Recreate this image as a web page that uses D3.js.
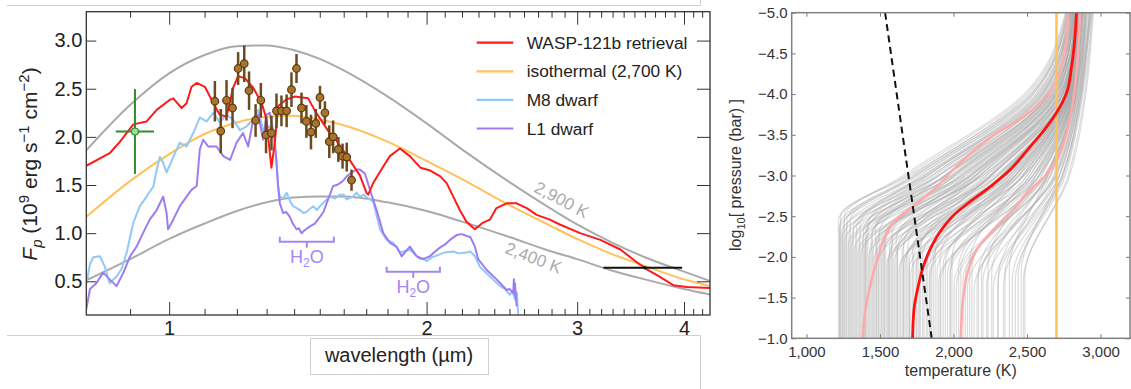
<!DOCTYPE html>
<html>
<head>
<meta charset="utf-8">
<script src="https://cdn.jsdelivr.net/npm/d3@7"></script>
<style>
  html, body { margin: 0; padding: 0; background: #fff; }
  svg { display: block; font-family: "Liberation Sans", Arial, Helvetica, sans-serif; }
</style>
</head>
<body>
<svg id="fig" width="1131" height="389"></svg>
<script>
// ---------------- Emission spectrum (left panel) ----------------
const wavelengthMajorTicks = [1, 2, 3, 4];
const wavelengthMinorTicks = [0.9, 1.1, 1.2, 1.3, 1.4, 1.5, 1.6, 1.7, 1.8, 1.9,
  2.1, 2.2, 2.3, 2.4, 2.5, 2.6, 2.7, 2.8, 2.9, 3.1, 3.2, 3.3, 3.4, 3.5, 3.6, 3.7, 3.8, 3.9, 4.1, 4.2];
const fluxTicks = [0.5, 1.0, 1.5, 2.0, 2.5, 3.0];

// blackbody reference curves
const bbWavelength = [0.8, 0.9, 1.0, 1.1, 1.2, 1.3, 1.4, 1.5, 1.6, 1.8, 2.0, 2.2, 2.5, 2.8, 3.0, 3.3, 3.6, 4.0, 4.3];
const bb2900 = [1.86, 2.33, 2.66, 2.85, 2.94, 2.95, 2.90, 2.81, 2.69, 2.42, 2.14, 1.87, 1.53, 1.25, 1.09, 0.90, 0.75, 0.60, 0.50];
const bb2700 = [1.17, 1.54, 1.82, 2.03, 2.15, 2.21, 2.22, 2.18, 2.12, 1.95, 1.75, 1.56, 1.29, 1.07, 0.94, 0.78, 0.66, 0.52, 0.45];
const bb2400 = [0.51, 0.73, 0.94, 1.10, 1.23, 1.32, 1.37, 1.38, 1.38, 1.32, 1.23, 1.12, 0.96, 0.81, 0.73, 0.61, 0.52, 0.42, 0.36];

// retrieved planet spectrum
const retrievalWavelength = [0.800, 0.852, 0.876, 0.908, 0.941, 0.967, 1.002, 1.011, 1.034, 1.048, 1.062, 1.077,
  1.101, 1.126, 1.146, 1.167, 1.188, 1.204, 1.226, 1.254, 1.283, 1.300, 1.309, 1.317, 1.329, 1.341, 1.372, 1.403,
  1.430, 1.454, 1.481, 1.535, 1.569, 1.612, 1.671, 1.701, 1.709, 1.732, 1.779, 1.812, 1.861, 1.912, 1.967, 2.020,
  2.075, 2.111, 2.149, 2.187, 2.226, 2.277, 2.329, 2.371, 2.414, 2.481, 2.549, 2.619, 2.690, 2.787, 2.863, 3.024,
  3.193, 3.370, 3.520, 3.610, 3.740, 3.886, 4.030, 4.290];
const retrievalFlux = [1.70, 1.83, 1.95, 2.13, 2.16, 2.28, 2.385, 2.40, 2.30, 2.35, 2.52, 2.56,
  2.52, 2.35, 2.23, 2.21, 2.51, 2.63, 2.61, 2.51, 2.35, 2.18, 1.90, 1.68, 1.94, 2.32, 2.39, 2.42,
  2.41, 2.40, 2.27, 2.06, 1.96, 1.81, 1.60, 1.42, 1.40, 1.52, 1.69, 1.80, 1.88, 1.80, 1.68, 1.65,
  1.59, 1.52, 1.38, 1.24, 1.12, 1.04, 1.11, 1.14, 1.26, 1.31, 1.31, 1.26, 1.19, 1.14, 1.09, 1.00,
  0.93, 0.83, 0.70, 0.63, 0.55, 0.46, 0.44, 0.43];

// M8 dwarf template
const m8Wavelength = [0.800, 0.808, 0.815, 0.830, 0.841, 0.852, 0.868, 0.880, 0.892, 0.908, 0.924, 0.941, 0.949,
  0.958, 0.967, 0.975, 0.984, 0.993, 1.011, 1.029, 1.048, 1.067, 1.086, 1.106, 1.126, 1.146, 1.167, 1.188, 1.210,
  1.232, 1.254, 1.271, 1.288, 1.311, 1.323, 1.335, 1.341, 1.347, 1.360, 1.372, 1.385, 1.396, 1.410, 1.422, 1.435,
  1.447, 1.460, 1.474, 1.488, 1.501, 1.520, 1.542, 1.563, 1.584, 1.600, 1.613, 1.640, 1.656, 1.671, 1.690, 1.702,
  1.718, 1.733, 1.764, 1.796, 1.828, 1.861, 1.912, 1.964, 1.980, 2.000, 2.030, 2.073, 2.100, 2.149, 2.180, 2.228,
  2.250, 2.278, 2.309, 2.372, 2.437, 2.470, 2.503, 2.520, 2.537, 2.545, 2.550, 2.560];
const m8Flux = [0.47, 0.68, 0.75, 0.76, 0.65, 0.48, 0.55, 0.63, 0.80, 1.11, 1.28, 1.38, 1.43,
  1.48, 1.66, 1.79, 1.73, 1.63, 1.79, 1.94, 1.90, 2.04, 2.20, 2.16, 2.25, 2.15, 2.23, 2.18, 2.07,
  2.11, 2.18, 2.28, 2.07, 2.11, 2.04, 1.76, 1.48, 1.38, 1.36, 1.42, 1.33, 1.28, 1.26, 1.24, 1.21,
  1.22, 1.25, 1.28, 1.24, 1.28, 1.33, 1.38, 1.36, 1.40, 1.40, 1.35, 1.38, 1.42, 1.38, 1.40, 1.37,
  1.35, 1.32, 1.04, 0.93, 0.90, 0.80, 0.83, 0.73, 0.74, 0.71, 0.75, 0.78, 0.80, 0.81, 0.79, 0.80,
  0.81, 0.76, 0.65, 0.55, 0.45, 0.42, 0.36, 0.40, 0.31, 0.30, 0.38, 0.14];

// L1 dwarf template
const l1Wavelength = [0.800, 0.808, 0.822, 0.837, 0.852, 0.868, 0.884, 0.900, 0.916, 0.932, 0.949, 0.967, 0.984,
  0.993, 0.997, 1.011, 1.029, 1.048, 1.062, 1.077, 1.086, 1.096, 1.111, 1.136, 1.157, 1.178, 1.199, 1.220, 1.237,
  1.254, 1.271, 1.288, 1.300, 1.311, 1.329, 1.341, 1.347, 1.359, 1.370, 1.384, 1.395, 1.409, 1.418, 1.428, 1.440,
  1.461, 1.480, 1.501, 1.515, 1.528, 1.555, 1.570, 1.584, 1.600, 1.613, 1.635, 1.656, 1.671, 1.694, 1.717, 1.748,
  1.780, 1.812, 1.845, 1.870, 1.912, 1.947, 1.982, 2.018, 2.040, 2.073, 2.100, 2.130, 2.168, 2.200, 2.228, 2.250,
  2.278, 2.298, 2.350, 2.415, 2.481, 2.500, 2.526, 2.530, 2.535, 2.537, 2.549];
const l1Flux = [0.21, 0.42, 0.48, 0.59, 0.52, 0.45, 0.59, 0.76, 0.86, 1.00, 1.14, 1.24, 1.38,
  1.21, 1.04, 1.14, 1.28, 1.38, 1.45, 1.49, 1.87, 1.97, 1.90, 1.90, 1.80, 1.76, 1.94, 2.04, 1.90,
  2.18, 2.23, 1.97, 2.23, 2.25, 1.97, 1.49, 1.31, 1.21, 1.22, 1.17, 1.10, 1.04, 1.05, 1.00, 1.03,
  1.07, 1.10, 1.17, 1.22, 1.31, 1.49, 1.50, 1.52, 1.55, 1.59, 1.63, 1.66, 1.66, 1.62, 1.45, 1.24,
  1.00, 0.90, 0.86, 0.76, 0.86, 0.76, 0.73, 0.76, 0.80, 0.85, 0.88, 0.93, 0.98, 0.99, 0.97, 0.96,
  0.86, 0.73, 0.62, 0.52, 0.41, 0.42, 0.38, 0.52, 0.36, 0.48, 0.24];

// spectroscopic eclipse depths (planet flux) with 1-sigma errors
const obsWavelength = [1.131, 1.149, 1.167, 1.186, 1.204, 1.224, 1.240, 1.262, 1.280, 1.298, 1.317, 1.335, 1.353, 1.372,
  1.390, 1.409, 1.428, 1.447, 1.465, 1.484, 1.501, 1.521, 1.539, 1.555, 1.577, 1.595, 1.613, 1.634];
const obsFlux = [2.37, 2.06, 2.38, 2.30, 2.71, 2.76, 2.48, 2.17, 2.38, 2.02, 2.04, 2.27, 2.27, 2.27,
  2.49, 2.71, 2.30, 2.16, 2.05, 2.14, 2.41, 2.25, 1.95, 2.00, 1.87, 1.80, 1.79, 1.55];
const obsError = [0.21, 0.23, 0.21, 0.21, 0.17, 0.19, 0.20, 0.17, 0.18, 0.19, 0.18, 0.18, 0.16, 0.17,
  0.18, 0.15, 0.16, 0.17, 0.18, 0.15, 0.12, 0.12, 0.17, 0.17, 0.13, 0.13, 0.15, 0.11];

// photometric points: [wavelength, flux, band start, band end, flux error]
const zBandPoint = [0.912, 2.056, 0.866, 0.960, 0.44];
const irac36Point = [3.60, 0.64, 3.22, 3.98, 0.0];

// water absorption bands: [start, end, flux level]
const h2oBands = [[1.347, 1.558, 0.91], [1.796, 2.073, 0.60]];

const legendNames = ["WASP-121b retrieval", "isothermal (2,700 K)", "M8 dwarf", "L1 dwarf"];
const legendColors = ["#ff1a1a", "#ffc25a", "#92c8f6", "#9d7cf2"];

// ---------------- Temperature-pressure profiles (right panel) ----------------
const temperatureTicks = [1000, 1500, 2000, 2500, 3000];
const pressureTicks = [-5.0, -4.5, -4.0, -3.5, -3.0, -2.5, -2.0, -1.5, -1.0];

// posterior samples: [T at -1, log P where warming begins, T at -3, T at -4, T at -5]
const sampleProfiles = [
  [1218, -2.45, 1660, 2480, 2762], [1225, -2.35, 1800, 2570, 2790], [1232, -2.50, 1700, 2510, 2770],
  [1240, -2.30, 1900, 2620, 2800], [1250, -2.40, 1760, 2545, 2775], [1262, -2.20, 2000, 2670, 2830],
  [1275, -2.45, 1720, 2525, 2785], [1290, -2.30, 1850, 2600, 2795], [1305, -2.15, 2080, 2690, 2845],
  [1320, -2.35, 1780, 2560, 2780], [1335, -2.25, 1950, 2640, 2810], [1350, -2.05, 2150, 2720, 2850],
  [1365, -2.40, 1820, 2590, 2800], [1380, -2.20, 2020, 2680, 2825], [1395, -2.10, 2200, 2740, 2860],
  [1410, -2.30, 1880, 2610, 2790], [1425, -2.00, 2280, 2760, 2840], [1440, -2.25, 1980, 2660, 2815],
  [1455, -2.10, 2120, 2710, 2835], [1470, -2.35, 1900, 2630, 2805], [1490, -1.95, 2350, 2775, 2870],
  [1505, -2.15, 2060, 2690, 2820], [1520, -2.05, 2220, 2745, 2850], [1540, -2.25, 2000, 2670, 2830],
  [1555, -1.90, 2420, 2785, 2845], [1575, -2.10, 2150, 2725, 2860], [1590, -2.00, 2300, 2770, 2835],
  [1610, -2.20, 2080, 2700, 2840], [1630, -1.85, 2480, 2800, 2880], [1650, -2.05, 2250, 2755, 2825],
  [1670, -1.95, 2380, 2780, 2855], [1690, -2.15, 2180, 2735, 2845], [1710, -1.80, 2540, 2810, 2865],
  [1730, -2.00, 2320, 2770, 2840], [1750, -1.90, 2450, 2790, 2900], [1775, -2.10, 2250, 2750, 2830],
  [1800, -1.75, 2580, 2815, 2850], [1825, -1.95, 2400, 2785, 2835], [1850, -1.85, 2500, 2800, 2870],
  [1875, -2.05, 2330, 2775, 2820], [1900, -1.70, 2620, 2825, 2890], [1930, -1.90, 2470, 2795, 2845],
  [1960, -1.80, 2560, 2810, 2855], [1990, -2.00, 2420, 2790, 2830], [2020, -1.65, 2650, 2830, 2910],
  [2050, -1.85, 2540, 2805, 2850], [2080, -1.75, 2620, 2820, 2865], [2110, -1.95, 2500, 2800, 2840],
  [2140, -1.60, 2690, 2845, 2925], [2170, -1.80, 2600, 2815, 2860], [2200, -1.70, 2680, 2840, 2880],
  [2235, -1.90, 2560, 2810, 2850], [2270, -1.60, 2720, 2860, 2935], [2305, -1.75, 2660, 2835, 2870],
  [2340, -1.65, 2740, 2870, 2920], [2380, -1.85, 2640, 2830, 2860], [2420, -1.70, 2760, 2880, 2945],
  [2460, -1.80, 2720, 2860, 2895], [2485, -1.75, 2790, 2900, 2950], [1480, -2.20, 2100, 2700, 2815],
  [1560, -2.00, 2260, 2760, 2835], [1620, -2.10, 2180, 2740, 2850], [1700, -1.95, 2360, 2775, 2830],
  [1760, -2.05, 2300, 2765, 2845], [1840, -1.90, 2440, 2790, 2860], [1910, -2.00, 2380, 2780, 2840],
  [1980, -1.85, 2520, 2805, 2855], [1400, -2.30, 1940, 2650, 2820], [1530, -2.15, 2120, 2720, 2810],
  [1660, -1.90, 2400, 2785, 2870],
  [1228, -2.40, 1740, 2530, 2772], [1245, -2.25, 1950, 2650, 2815], [1258, -2.50, 1680, 2495, 2765],
  [1270, -2.35, 1820, 2585, 2790], [1285, -2.15, 2060, 2700, 2840], [1298, -2.45, 1740, 2540, 2778],
  [1312, -2.28, 1900, 2630, 2808], [1328, -2.10, 2120, 2720, 2850], [1342, -2.38, 1800, 2575, 2788],
  [1358, -2.22, 1990, 2670, 2820], [1372, -2.05, 2200, 2745, 2862], [1388, -2.32, 1860, 2610, 2800],
  [1402, -2.18, 2050, 2700, 2835], [1418, -2.40, 1830, 2600, 2795], [1432, -2.08, 2180, 2740, 2848],
  [1448, -2.28, 1950, 2655, 2812], [1462, -1.98, 2300, 2770, 2866], [1478, -2.12, 2110, 2715, 2830],
  [1495, -2.30, 1940, 2650, 2805], [1512, -2.02, 2250, 2760, 2855], [1528, -2.20, 2040, 2690, 2825],
  [1548, -1.92, 2380, 2785, 2875], [1565, -2.12, 2140, 2730, 2842], [1582, -2.28, 2010, 2680, 2818],
  [1600, -1.95, 2340, 2780, 2858], [1618, -2.05, 2230, 2755, 2836], [1640, -1.88, 2440, 2795, 2880],
  [1660, -2.15, 2160, 2735, 2828], [1680, -1.98, 2330, 2775, 2848], [1700, -1.85, 2480, 2805, 2865],
  [1722, -2.08, 2260, 2760, 2832], [1745, -1.92, 2420, 2795, 2858], [1768, -1.78, 2560, 2815, 2885],
  [1790, -2.02, 2330, 2775, 2842], [1815, -1.88, 2470, 2800, 2862], [1838, -1.76, 2590, 2822, 2895],
  [1862, -1.96, 2420, 2790, 2848], [1888, -1.82, 2540, 2812, 2870], [1915, -1.72, 2630, 2828, 2900],
  [1945, -1.92, 2470, 2798, 2850], [1975, -1.78, 2580, 2818, 2866], [2005, -1.68, 2660, 2836, 2915],
  [2035, -1.88, 2520, 2806, 2848], [2065, -1.72, 2640, 2830, 2880], [2095, -1.62, 2700, 2850, 2930],
  [2125, -1.85, 2580, 2815, 2858], [2160, -1.68, 2690, 2846, 2902], [2190, -1.78, 2640, 2830, 2868],
  [2225, -1.64, 2720, 2858, 2925], [2260, -1.80, 2630, 2832, 2866], [2300, -1.66, 2740, 2866, 2935],
  [2350, -1.78, 2700, 2852, 2890], [2400, -1.72, 2750, 2874, 2930], [2440, -1.76, 2740, 2868, 2905],
  [2475, -1.70, 2780, 2892, 2942]
];

// median retrieved profile and 1-sigma envelope
const medianPressure = [-5.00, -4.66, -4.34, -4.01, -3.77, -3.52, -3.36, -3.21, -3.07, -2.87, -2.66, -2.56, -2.37, -2.09, -1.88, -1.64, -1.35, -1.00];
const medianTemp = [2836, 2824, 2803, 2768, 2700, 2600, 2525, 2455, 2385, 2255, 2100, 2030, 1933, 1840, 1795, 1760, 1731, 1722];
const lowPressure = [-5.00, -4.54, -4.17, -3.93, -3.72, -3.52, -3.23, -2.99, -2.87, -2.62, -2.46, -2.29, -2.01, -1.64, -1.31, -1.00];
const lowTemp = [2781, 2758, 2701, 2610, 2475, 2294, 2090, 1954, 1890, 1725, 1614, 1546, 1489, 1432, 1398, 1383];
const highPressure = [-5.00, -4.54, -3.93, -3.52, -3.19, -3.00, -2.82, -2.58, -2.33, -2.09, -1.84, -1.52, -1.00];
const highTemp = [2860, 2848, 2814, 2769, 2701, 2625, 2520, 2407, 2271, 2158, 2101, 2067, 2049];

// condensation curve and isothermal profile
const condensationTemp = [1535, 1852];
const condensationPressure = [-5, -1];
const isothermalTemp = [2700, 2700];
const isothermalPressure = [-5, -1];

// =====================================================================
const svg = d3.select("#fig");

// frame lines of the page layout
svg.append("path").attr("d", "M7,5.5H700.5V0").attr("fill", "none").attr("stroke", "#cfcfcf").attr("stroke-width", 1);
svg.append("path").attr("d", "M7,335.5H700.5V389").attr("fill", "none").attr("stroke", "#cfcfcf").attr("stroke-width", 1);

// ---------- left panel ----------
const L = { left: 86.3, right: 710, top: 11.7, bottom: 315 };
const x = d3.scaleLog().domain([0.8, 4.29]).range([L.left, L.right]);
const y = d3.scaleLinear().domain([0.15, 3.3]).range([L.bottom, L.top]);

const defs = svg.append("defs");
defs.append("clipPath").attr("id", "clipL").append("rect")
  .attr("x", L.left).attr("y", L.top).attr("width", L.right - L.left).attr("height", L.bottom - L.top);

const gL = svg.append("g");
const plotL = gL.append("g").attr("clip-path", "url(#clipL)");
const lineL = d3.line().x(d => x(d[0])).y(d => y(d[1]));
const smoothL = d3.line().x(d => x(d[0])).y(d => y(d[1])).curve(d3.curveMonotoneX);

plotL.append("path").datum(d3.zip(bbWavelength, bb2900)).attr("d", smoothL)
  .attr("fill", "none").attr("stroke", "#aaaaaa").attr("stroke-width", 2);
plotL.append("path").datum(d3.zip(bbWavelength, bb2400)).attr("d", smoothL)
  .attr("fill", "none").attr("stroke", "#aaaaaa").attr("stroke-width", 2);
plotL.append("path").datum(d3.zip(bbWavelength, bb2700)).attr("d", smoothL)
  .attr("fill", "none").attr("stroke", legendColors[1]).attr("stroke-width", 2);

plotL.append("path").datum(d3.zip(m8Wavelength, m8Flux)).attr("d", lineL)
  .attr("fill", "none").attr("stroke", legendColors[2]).attr("stroke-width", 2).attr("stroke-linejoin", "round");
plotL.append("path").datum(d3.zip(l1Wavelength, l1Flux)).attr("d", lineL)
  .attr("fill", "none").attr("stroke", legendColors[3]).attr("stroke-width", 2).attr("stroke-linejoin", "round");
plotL.append("path").datum(d3.zip(retrievalWavelength, retrievalFlux)).attr("d", lineL)
  .attr("fill", "none").attr("stroke", legendColors[0]).attr("stroke-width", 2).attr("stroke-linejoin", "round");

// curve labels
gL.append("text").attr("transform", `translate(561,201) rotate(28)`).attr("text-anchor", "middle")
  .attr("dominant-baseline", "middle").attr("font-size", 17).attr("fill", "#aaaaaa").text("2,900 K");
gL.append("text").attr("transform", `translate(533,259) rotate(21)`).attr("text-anchor", "middle")
  .attr("dominant-baseline", "middle").attr("font-size", 17).attr("fill", "#aaaaaa").text("2,400 K");

// water band brackets
const h2oColor = "#a387f2";
h2oBands.forEach((b, i) => {
  const x0 = x(b[0]), x1 = x(b[1]), yy = y(b[2]), xm = (x0 + x1) / 2;
  gL.append("path").attr("d", `M${x0},${yy - 5}V${yy}H${x1}V${yy - 5}M${xm},${yy}V${yy + 6}`)
    .attr("fill", "none").attr("stroke", h2oColor).attr("stroke-width", 2);
  const t = gL.append("text").attr("x", xm).attr("y", yy + 21).attr("text-anchor", "middle")
    .attr("font-size", 18).attr("fill", h2oColor);
  t.append("tspan").text("H");
  t.append("tspan").attr("font-size", 12).attr("baseline-shift", "-4").text("2");
  t.append("tspan").text("O");
});

// observed points
const obs = obsWavelength.map((w, i) => [w, obsFlux[i], obsError[i]]);
const obsG = gL.append("g");
obsG.selectAll("line").data(obs).join("line")
  .attr("x1", d => x(d[0])).attr("x2", d => x(d[0]))
  .attr("y1", d => y(d[1] - d[2])).attr("y2", d => y(d[1] + d[2]))
  .attr("stroke", "#6b4a1e").attr("stroke-width", 2.5);
obsG.selectAll("circle").data(obs).join("circle")
  .attr("cx", d => x(d[0])).attr("cy", d => y(d[1])).attr("r", 3.8)
  .attr("fill", "#a8742c").attr("stroke", "#5a3a12").attr("stroke-width", 1.2);

// z-band photometry
const zg = gL.append("g");
zg.append("line").attr("x1", x(zBandPoint[0])).attr("x2", x(zBandPoint[0]))
  .attr("y1", y(zBandPoint[1] - zBandPoint[4])).attr("y2", y(zBandPoint[1] + zBandPoint[4]))
  .attr("stroke", "#2e8b2e").attr("stroke-width", 2);
zg.append("line").attr("x1", x(zBandPoint[2])).attr("x2", x(zBandPoint[3]))
  .attr("y1", y(zBandPoint[1])).attr("y2", y(zBandPoint[1]))
  .attr("stroke", "#2e8b2e").attr("stroke-width", 2);
zg.append("circle").attr("cx", x(zBandPoint[0])).attr("cy", y(zBandPoint[1])).attr("r", 3.5)
  .attr("fill", "#9be09b").attr("stroke", "#2e8b2e").attr("stroke-width", 1.2);

// 3.6 micron photometry
gL.append("line").attr("x1", x(irac36Point[2])).attr("x2", x(irac36Point[3]))
  .attr("y1", y(irac36Point[1])).attr("y2", y(irac36Point[1]))
  .attr("stroke", "#111").attr("stroke-width", 2);
gL.append("circle").attr("cx", x(irac36Point[0])).attr("cy", y(irac36Point[1])).attr("r", 1.8).attr("fill", "#111");

// legend
legendNames.forEach((name, i) => {
  const yy = 42.7 + i * 28.6;
  gL.append("line").attr("x1", 476.7).attr("x2", 513.3).attr("y1", yy).attr("y2", yy)
    .attr("stroke", legendColors[i]).attr("stroke-width", 2.2);
  gL.append("text").attr("x", 526.7).attr("y", yy + 6).attr("font-size", 17.3).attr("fill", "#222").text(name);
});

// axes (ticks point inward)
function styleAxis(g, color, fontSize, textColor) {
  g.select(".domain").remove();
  g.selectAll(".tick line").attr("stroke", color).attr("stroke-width", 1);
  g.selectAll(".tick text").attr("font-size", fontSize).attr("fill", textColor)
    .attr("font-family", '"Liberation Sans", Arial, sans-serif');
}
const axColorL = "#333";
styleAxis(gL.append("g").attr("transform", `translate(0,${L.bottom})`)
  .call(d3.axisBottom(x).tickValues(wavelengthMajorTicks).tickFormat(d3.format("d")).tickSize(-13).tickPadding(6)), axColorL, 20, "#222");
styleAxis(gL.append("g").attr("transform", `translate(0,${L.bottom})`)
  .call(d3.axisBottom(x).tickValues(wavelengthMinorTicks).tickFormat("").tickSize(-6)), axColorL, 20, "#222");
styleAxis(gL.append("g").attr("transform", `translate(0,${L.top})`)
  .call(d3.axisTop(x).tickValues(wavelengthMajorTicks).tickFormat("").tickSize(-13)), axColorL, 20, "#222");
styleAxis(gL.append("g").attr("transform", `translate(0,${L.top})`)
  .call(d3.axisTop(x).tickValues(wavelengthMinorTicks).tickFormat("").tickSize(-6)), axColorL, 20, "#222");
styleAxis(gL.append("g").attr("transform", `translate(${L.left},0)`)
  .call(d3.axisLeft(y).tickValues(fluxTicks).tickFormat(d3.format(".1f")).tickSize(-10).tickPadding(4)), axColorL, 20, "#222");
styleAxis(gL.append("g").attr("transform", `translate(${L.right},0)`)
  .call(d3.axisRight(y).tickValues(fluxTicks).tickFormat("").tickSize(-13)), axColorL, 20, "#222");

gL.append("rect").attr("x", L.left).attr("y", L.top).attr("width", L.right - L.left).attr("height", L.bottom - L.top)
  .attr("fill", "none").attr("stroke", "#333").attr("stroke-width", 1.3);

// y label
const yl = gL.append("text").attr("transform", "translate(37,164) rotate(-90)").attr("text-anchor", "middle")
  .attr("font-size", 21).attr("fill", "#222");
yl.append("tspan").attr("font-style", "italic").text("F");
yl.append("tspan").attr("font-style", "italic").attr("font-size", 15).attr("baseline-shift", "-5").text("p");
yl.append("tspan").text(" (10");
yl.append("tspan").attr("font-size", 15).attr("baseline-shift", "8").text("9");
yl.append("tspan").text(" erg s");
yl.append("tspan").attr("font-size", 15).attr("baseline-shift", "8").text("\u22121");
yl.append("tspan").text(" cm");
yl.append("tspan").attr("font-size", 15).attr("baseline-shift", "8").text("\u22122");
yl.append("tspan").text(")");

// x label in its box
svg.append("rect").attr("x", 310.5).attr("y", 338.5).attr("width", 178).attr("height", 36)
  .attr("fill", "#fff").attr("stroke", "#cfcfcf").attr("stroke-width", 1);
svg.append("text").attr("x", 399).attr("y", 362).attr("text-anchor", "middle").attr("font-size", 20)
  .attr("fill", "#222").text("wavelength (\u00b5m)");

// ---------- right panel ----------
const R = { left: 791.7, right: 1130, top: 12.7, bottom: 338.3 };
const xT = d3.scaleLinear().domain([900, 3200]).range([R.left, R.right]);
const yP = d3.scaleLinear().domain([-5, -1]).range([R.top, R.bottom]);

defs.append("clipPath").attr("id", "clipR").append("rect")
  .attr("x", R.left).attr("y", R.top).attr("width", R.right - R.left).attr("height", R.bottom - R.top);
const gR = svg.append("g");
const plotR = gR.append("g").attr("clip-path", "url(#clipR)");

const profileLine = d3.line().x(d => xT(d[0])).y(d => yP(d[1])).curve(d3.curveMonotoneY);
const linearR = d3.line().x(d => xT(d[0])).y(d => yP(d[1]));

plotR.append("g").selectAll("path").data(sampleProfiles).join("path")
  .attr("d", s => profileLine([[s[4], -5], [s[3], -4], [s[2], -3], [s[0], s[1]], [s[0], -1]]))
  .attr("fill", "none").attr("stroke", "#acacac").attr("stroke-opacity", 0.42).attr("stroke-width", 1.2);

plotR.append("path").datum(d3.zip(lowTemp, lowPressure)).attr("d", profileLine)
  .attr("fill", "none").attr("stroke", "#ffaaaa").attr("stroke-width", 2.5);
plotR.append("path").datum(d3.zip(highTemp, highPressure)).attr("d", profileLine)
  .attr("fill", "none").attr("stroke", "#ffaaaa").attr("stroke-width", 2.5);
plotR.append("path").datum(d3.zip(isothermalTemp, isothermalPressure)).attr("d", linearR)
  .attr("fill", "none").attr("stroke", legendColors[1]).attr("stroke-width", 2.5);
plotR.append("path").datum(d3.zip(medianTemp, medianPressure)).attr("d", profileLine)
  .attr("fill", "none").attr("stroke", "#ff1010").attr("stroke-width", 2.8);
plotR.append("path").datum(d3.zip(condensationTemp, condensationPressure)).attr("d", linearR)
  .attr("fill", "none").attr("stroke", "#111").attr("stroke-width", 2).attr("stroke-dasharray", "7,4.5");

const axColorR = "#777";
styleAxis(gR.append("g").attr("transform", `translate(0,${R.bottom})`)
  .call(d3.axisBottom(xT).tickValues(temperatureTicks).tickFormat(d3.format(",")).tickSize(-4).tickPadding(8)), axColorR, 15, "#333");
styleAxis(gR.append("g").attr("transform", `translate(0,${R.top})`)
  .call(d3.axisTop(xT).tickValues(temperatureTicks).tickFormat("").tickSize(-4)), axColorR, 15, "#333");
styleAxis(gR.append("g").attr("transform", `translate(${R.left},0)`)
  .call(d3.axisLeft(yP).tickValues(pressureTicks).tickFormat(d3.format(".1f")).tickSize(-4).tickPadding(4)), axColorR, 15, "#333");
styleAxis(gR.append("g").attr("transform", `translate(${R.right},0)`)
  .call(d3.axisRight(yP).tickValues(pressureTicks).tickFormat("").tickSize(-4)), axColorR, 15, "#333");

gR.append("rect").attr("x", R.left).attr("y", R.top).attr("width", R.right - R.left).attr("height", R.bottom - R.top)
  .attr("fill", "none").attr("stroke", "#808080").attr("stroke-width", 1.5);

gR.append("text").attr("x", (R.left + R.right) / 2).attr("y", 376).attr("text-anchor", "middle")
  .attr("font-size", 16).attr("fill", "#333").text("temperature (K)");
const pl = gR.append("text").attr("transform", "translate(741,175) rotate(-90)").attr("text-anchor", "middle")
  .attr("font-size", 16).attr("fill", "#333");
pl.append("tspan").text("log");
pl.append("tspan").attr("font-size", 11).attr("baseline-shift", "-4").text("10");
pl.append("tspan").text("[ pressure (bar) ]");
</script>
</body>
</html>
